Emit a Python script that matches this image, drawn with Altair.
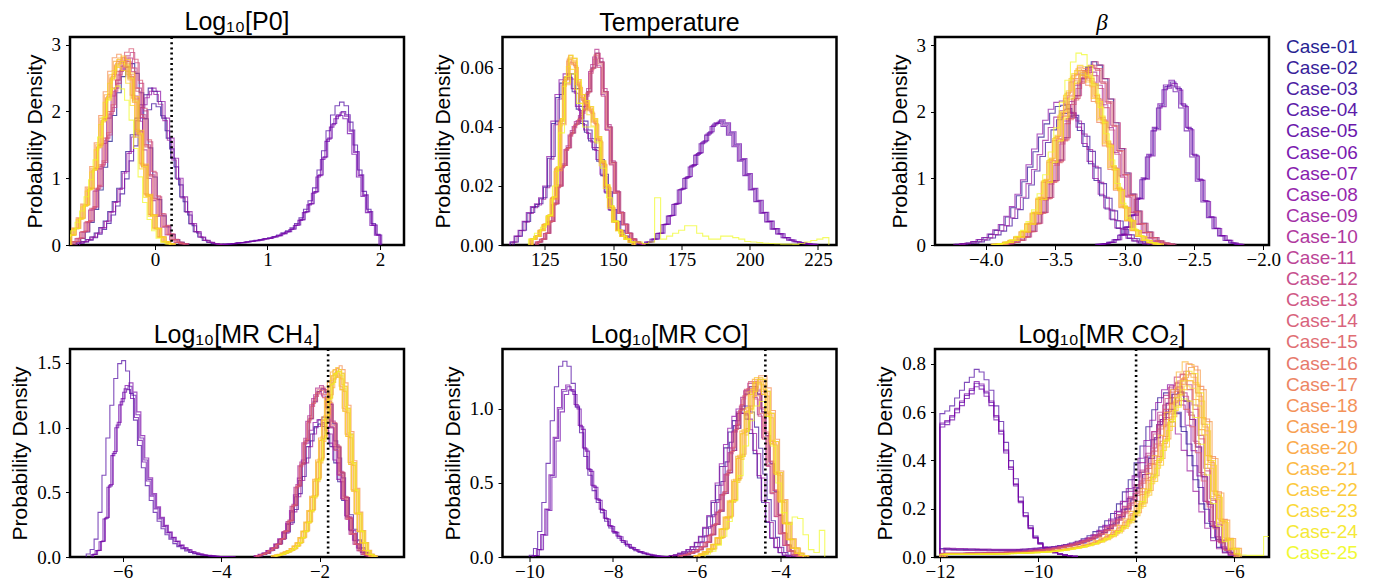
import altair as alt
import pandas as pd

CASES = [f"Case-{i:02d}" for i in range(1, 26)]
COLORS = ["#0d0887", "#230690", "#380599", "#4b03a0", "#5c01a4", "#6d01a8", "#7c06a6",
          "#8c0ca4", "#9a179d", "#a82395", "#b52f8c", "#c13b82", "#cc4778", "#d5536f",
          "#dd5f66", "#e56c5c", "#ec7953", "#f38749", "#f79540", "#fba338", "#fcb330",
          "#fcc429", "#fad524", "#f5e723", "#f0f921"]
# which posterior family each case follows
GROUP_OF = ["B", "A", "A", "D", "D", "D", "D", "A", "A", "B", "B", "B", "B", "B", "B"] + ["C"] * 10

# ---------------- Log10[P0] ----------------
P0_A = (-0.68, 0.04, [0.03, 0.05, 0.08, 0.12, 0.18, 0.26, 0.36, 0.5, 0.65, 0.85, 1.1, 1.4, 1.65, 1.9, 2.1,
                      2.25, 2.35, 2.3, 2.15, 1.9, 1.6, 1.3, 1.0, 0.72, 0.5, 0.32, 0.2, 0.12, 0.07, 0.04, 0.02, 0.01])
P0_B = (-0.72, 0.04, [0.05, 0.1, 0.2, 0.35, 0.55, 0.85, 1.2, 1.6, 2.0, 2.35, 2.6, 2.75, 2.8, 2.65, 2.35, 1.95,
                      1.5, 1.05, 0.7, 0.45, 0.28, 0.16, 0.08, 0.04, 0.02])
P0_C = (-0.76, 0.04, [0.15, 0.25, 0.4, 0.6, 0.85, 1.15, 1.5, 1.9, 2.25, 2.55, 2.75, 2.8, 2.75, 2.55, 2.2, 1.7,
                      1.2, 0.75, 0.45, 0.25, 0.12, 0.05, 0.02])
P0_D = (0.60, 0.04, [0.01, 0.015, 0.02, 0.03, 0.035, 0.045, 0.055, 0.065, 0.075, 0.09, 0.1, 0.12, 0.14, 0.17,
                     0.2, 0.24, 0.3, 0.38, 0.5, 0.62, 0.8, 1.05, 1.32, 1.6, 1.82, 1.95, 2.0, 1.95, 1.72, 1.4,
                     1.05, 0.75, 0.5, 0.3, 0.15])
P0_DX = [0.02, -0.02, 0.01, 0.0, 0.015, -0.01, 0.005, 0.01, -0.01, -0.03, 0.0, 0.02, -0.01, 0.01, -0.02,
         0.02, 0.0, -0.02, 0.01, -0.01, 0.0, 0.02, -0.02, 0.01, -0.03]
P0_SC = [0.97, 1.0, 0.9, 1.07, 1.0, 0.97, 0.99, 1.0, 0.98, 0.95, 1.0, 1.03, 0.98, 1.05, 1.0,
         1.0, 0.98, 1.02, 0.99, 1.0, 0.97, 1.01, 0.95, 0.98, 0.85]

# ---------------- Temperature ----------------
T_A = (113, 1.5, [0.001, 0.003, 0.005, 0.008, 0.011, 0.013, 0.014, 0.016, 0.02, 0.03, 0.042, 0.051, 0.056,
                  0.058, 0.058, 0.053, 0.047, 0.042, 0.039, 0.036, 0.033, 0.029, 0.024, 0.018, 0.012, 0.008,
                  0.005, 0.003, 0.002, 0.001])
T_B = (122, 1.5, [0.001, 0.002, 0.004, 0.008, 0.014, 0.02, 0.027, 0.033, 0.038, 0.041, 0.043, 0.046, 0.052,
                  0.06, 0.065, 0.062, 0.052, 0.04, 0.028, 0.018, 0.011, 0.007, 0.004, 0.002, 0.001, 0.0005])
T_C = (120, 1.5, [0.002, 0.003, 0.005, 0.007, 0.01, 0.016, 0.026, 0.042, 0.056, 0.063, 0.062, 0.055, 0.05,
                  0.048, 0.046, 0.042, 0.036, 0.028, 0.02, 0.013, 0.008, 0.005, 0.003, 0.002, 0.001])
T_D = (160, 2.0, [0.0005, 0.001, 0.002, 0.004, 0.007, 0.01, 0.014, 0.019, 0.023, 0.027, 0.031, 0.035, 0.038,
                  0.041, 0.042, 0.041, 0.038, 0.034, 0.029, 0.024, 0.019, 0.015, 0.011, 0.008, 0.0055, 0.0038,
                  0.0025, 0.0017, 0.0011, 0.0007, 0.0004, 0.0002])
T_CASE25 = (119, 2.2, [0.002, 0.004, 0.006, 0.01, 0.02, 0.038, 0.055, 0.058, 0.048, 0.04, 0.04, 0.035, 0.026,
                       0.016, 0.008, 0.004, 0.002, 0.001, 0.001, 0.0005, 0.001, 0.016, 0.002, 0.003, 0.004,
                       0.005, 0.0065, 0.0065, 0.004, 0.003, 0.002, 0.002, 0.003, 0.003, 0.0025, 0.002, 0.0012,
                       0.001, 0.0008, 0.0006, 0.0005, 0.0004, 0.0003, 0.0003, 0.0002, 0.0005, 0.001, 0.0015,
                       0.002, 0.0025])
T_DX = [0.5, -0.5, 0.8, 0.5, -0.5, 1.0, 0.0, -0.8, 0.3, -0.5, 0.3, 0.8, -0.3, 0.5, 0.0,
        0.5, -0.3, 0.2, -0.5, 0.8, 0.0, 0.3, -0.6, 0.4, 0.0]
T_SC = [1.0, 0.98, 1.0, 1.0, 0.98, 1.01, 0.99, 1.0, 0.97, 0.98, 1.02, 1.0, 0.97, 1.0, 0.99,
        0.98, 1.0, 1.02, 0.99, 0.97, 1.01, 1.0, 0.96, 1.02, 1.0]

# ---------------- beta ----------------
B_A = (-4.20, 0.04, [0.01, 0.02, 0.03, 0.05, 0.08, 0.11, 0.16, 0.22, 0.3, 0.42, 0.56, 0.74, 0.95, 1.17, 1.4,
                     1.62, 1.82, 1.98, 2.08, 2.1, 2.05, 1.92, 1.72, 1.48, 1.22, 0.97, 0.74, 0.54, 0.38, 0.25,
                     0.16, 0.1, 0.06, 0.03, 0.015])
B_B = (-3.90, 0.04, [0.01, 0.02, 0.04, 0.07, 0.12, 0.2, 0.32, 0.48, 0.7, 0.95, 1.25, 1.58, 1.9, 2.2, 2.45,
                     2.62, 2.7, 2.65, 2.45, 2.15, 1.8, 1.42, 1.06, 0.75, 0.5, 0.32, 0.19, 0.11, 0.06, 0.03, 0.015])
B_C = (-3.94, 0.04, [0.01, 0.02, 0.04, 0.07, 0.12, 0.2, 0.32, 0.48, 0.7, 0.96, 1.27, 1.6, 1.95, 2.25, 2.5,
                     2.62, 2.6, 2.45, 2.2, 1.88, 1.52, 1.16, 0.84, 0.57, 0.37, 0.22, 0.13, 0.07, 0.035, 0.015])
B_D = (-3.20, 0.04, [0.01, 0.02, 0.04, 0.08, 0.15, 0.27, 0.45, 0.7, 1.0, 1.35, 1.75, 2.1, 2.38, 2.45, 2.35,
                     2.1, 1.75, 1.35, 0.98, 0.66, 0.42, 0.25, 0.14, 0.07, 0.03, 0.01])
B_DX = [0.02, -0.02, 0.03, 0.01, -0.01, 0.0, 0.02, -0.03, 0.01, -0.02, 0.0, 0.03, -0.01, 0.02, 0.01,
        0.01, -0.02, 0.0, 0.02, -0.01, 0.01, -0.02, 0.0, 0.02, -0.01]
B_SC = [1.02, 1.0, 0.95, 1.0, 0.98, 1.01, 0.99, 1.03, 0.97, 0.98, 1.0, 1.02, 0.96, 1.0, 0.99,
        1.0, 0.98, 1.02, 0.99, 1.01, 0.97, 1.0, 1.03, 0.98, 1.1]

# ---------------- Log10[MR CH4] ----------------
M_A = (-3.28, 0.08, [0.01, 0.02, 0.03, 0.05, 0.07, 0.1, 0.14, 0.19, 0.26, 0.36, 0.48, 0.61, 0.75, 0.88, 0.98,
                     1.04, 1.06, 1.04, 0.98, 0.88, 0.75, 0.6, 0.45, 0.32, 0.21, 0.13, 0.07, 0.035, 0.015, 0.005])
M_B = (-3.28, 0.08, [0.01, 0.02, 0.03, 0.05, 0.07, 0.1, 0.14, 0.2, 0.28, 0.4, 0.55, 0.72, 0.9, 1.07, 1.2,
                     1.28, 1.3, 1.27, 1.18, 1.03, 0.85, 0.65, 0.46, 0.3, 0.18, 0.1, 0.05, 0.02, 0.01])
M_C = (-2.92, 0.06, [0.01, 0.015, 0.02, 0.03, 0.04, 0.05, 0.065, 0.085, 0.11, 0.15, 0.2, 0.27, 0.36, 0.47,
                     0.6, 0.75, 0.92, 1.08, 1.23, 1.35, 1.43, 1.45, 1.42, 1.32, 1.15, 0.95, 0.73, 0.52, 0.34,
                     0.2, 0.11, 0.05, 0.02, 0.008])
M_D = (-6.64, 0.08, [0.02, 0.05, 0.12, 0.3, 0.55, 0.8, 1.02, 1.2, 1.3, 1.32, 1.25, 1.1, 0.92, 0.75, 0.6, 0.48,
                     0.38, 0.3, 0.24, 0.19, 0.15, 0.12, 0.09, 0.07, 0.055, 0.04, 0.03, 0.022, 0.016, 0.012,
                     0.009, 0.006, 0.004, 0.003, 0.002, 0.001])
M_DX = [0.03, -0.03, 0.05, -0.1, 0.03, 0.0, 0.05, -0.05, 0.02, -0.04, 0.0, 0.04, -0.02, 0.03, 0.0,
        0.04, -0.04, 0.06, 0.0, -0.06, 0.03, -0.01, -0.05, 0.05, 0.02]
M_SC = [1.0, 0.97, 1.02, 1.15, 1.0, 0.98, 1.02, 1.0, 0.97, 0.98, 1.02, 1.0, 0.97, 1.01, 0.99,
        1.0, 0.98, 1.02, 0.99, 1.0, 0.97, 1.01, 0.98, 1.0, 0.99]

# ---------------- Log10[MR CO] ----------------
O_A = (-6.6, 0.1, [0.01, 0.015, 0.025, 0.035, 0.05, 0.07, 0.1, 0.14, 0.2, 0.28, 0.38, 0.5, 0.63, 0.76, 0.87,
                   0.95, 1.0, 1.0, 0.96, 0.86, 0.72, 0.55, 0.38, 0.24, 0.13, 0.065, 0.03, 0.012, 0.005])
O_B = (-6.4, 0.1, [0.01, 0.015, 0.025, 0.035, 0.05, 0.07, 0.1, 0.15, 0.22, 0.31, 0.43, 0.57, 0.72, 0.87, 1.0,
                   1.1, 1.15, 1.15, 1.1, 0.98, 0.82, 0.63, 0.44, 0.28, 0.16, 0.08, 0.04, 0.015, 0.005])
O_C = (-6.0, 0.1, [0.01, 0.02, 0.035, 0.055, 0.085, 0.13, 0.19, 0.27, 0.38, 0.52, 0.68, 0.85, 1.0, 1.12, 1.2,
                   1.2, 1.12, 0.97, 0.78, 0.57, 0.38, 0.23, 0.12, 0.06, 0.025, 0.01])
O_D = (-9.9, 0.1, [0.01, 0.05, 0.15, 0.32, 0.55, 0.8, 1.0, 1.12, 1.15, 1.12, 1.02, 0.88, 0.73, 0.59, 0.48,
                   0.39, 0.32, 0.26, 0.21, 0.17, 0.14, 0.11, 0.085, 0.065, 0.05, 0.037, 0.027, 0.019, 0.013,
                   0.008, 0.005, 0.003])
O_CASE25 = (-5.8, 0.13, [0.02, 0.04, 0.08, 0.14, 0.24, 0.38, 0.55, 0.75, 0.92, 1.02, 1.05, 0.95, 0.75, 0.5,
                         0.3, 0.22, 0.27, 0.26, 0.15, 0.05, 0.03, 0.18])
O_DX = [0.05, -0.05, 0.08, -0.1, 0.0, 0.04, -0.03, -0.06, 0.03, -0.05, 0.02, 0.06, -0.03, 0.04, 0.0,
        0.05, -0.05, 0.08, 0.0, -0.07, 0.03, -0.02, -0.05, 0.06, 0.0]
O_SC = [1.0, 0.97, 1.02, 1.15, 1.0, 0.98, 1.01, 1.0, 0.97, 0.98, 1.02, 1.0, 0.97, 1.03, 0.99,
        1.0, 0.98, 1.02, 0.99, 1.0, 0.97, 1.01, 0.98, 1.0, 1.0]

# ---------------- Log10[MR CO2] ----------------
X_A = (-12.0, 0.12, [0.035, 0.034, 0.033, 0.033, 0.032, 0.032, 0.031, 0.031, 0.03, 0.03, 0.03, 0.03, 0.03,
                     0.031, 0.032, 0.034, 0.036, 0.038, 0.04, 0.043, 0.047, 0.052, 0.058, 0.065, 0.075, 0.088,
                     0.105, 0.125, 0.15, 0.18, 0.22, 0.27, 0.32, 0.39, 0.46, 0.54, 0.61, 0.66, 0.68, 0.66, 0.6,
                     0.52, 0.42, 0.32, 0.22, 0.14, 0.08, 0.04, 0.02, 0.008])
X_B = (-12.0, 0.12, [0.015, 0.015, 0.015, 0.015, 0.016, 0.016, 0.016, 0.017, 0.017, 0.018, 0.019, 0.02,
                     0.021, 0.022, 0.024, 0.026, 0.028, 0.031, 0.034, 0.038, 0.043, 0.048, 0.054, 0.062, 0.07,
                     0.08, 0.092, 0.107, 0.125, 0.148, 0.176, 0.21, 0.25, 0.3, 0.36, 0.43, 0.52, 0.6, 0.67,
                     0.71, 0.72, 0.68, 0.6, 0.48, 0.35, 0.23, 0.13, 0.065, 0.03, 0.012])
X_C = (-12.0, 0.12, [0.012, 0.012, 0.012, 0.012, 0.012, 0.012, 0.013, 0.013, 0.013, 0.014, 0.014, 0.015,
                     0.016, 0.017, 0.018, 0.019, 0.02, 0.022, 0.024, 0.027, 0.03, 0.034, 0.038, 0.043, 0.049,
                     0.056, 0.065, 0.076, 0.089, 0.105, 0.125, 0.15, 0.18, 0.22, 0.27, 0.33, 0.4, 0.48, 0.57,
                     0.66, 0.73, 0.77, 0.76, 0.68, 0.55, 0.4, 0.26, 0.15, 0.075, 0.035])
X_D = (-12.0, 0.1, [0.55, 0.56, 0.58, 0.61, 0.64, 0.67, 0.69, 0.72, 0.71, 0.68, 0.64, 0.58, 0.52, 0.44, 0.37,
                    0.3, 0.23, 0.17, 0.12, 0.08, 0.055, 0.038, 0.026, 0.018, 0.012, 0.008, 0.005, 0.003])
X_CASE25_TAIL = [0.015, 0.01, 0.008, 0.008, 0.008, 0.1, 0.1]
X_DX = [0.05, 0.0, 0.1, 0.0, 0.0, 0.0, 0.0, 0.08, 0.0, 0.06, 0.0, 0.1, 0.03, 0.12, 0.05,
        0.05, 0.1, 0.0, 0.15, 0.08, 0.02, 0.12, 0.06, 0.1, 0.0]
X_SC = [0.95, 1.0, 0.9, 1.08, 1.0, 0.98, 1.01, 1.05, 0.85, 0.95, 1.0, 1.05, 0.98, 1.02, 0.9,
        1.0, 1.04, 0.96, 1.02, 0.98, 1.05, 0.95, 0.92, 1.0, 0.85]

PANELS = [
    dict(title="Log₁₀[P0]", groups=dict(A=P0_A, B=P0_B, C=P0_C, D=P0_D), over={}, dx=P0_DX, sc=P0_SC,
         xdom=[-0.755, 2.213], ydom=[0, 3.115], xt=[0, 1, 2], yt=[0, 1, 2, 3], xf="d", yf="d", truth=0.148),
    dict(title="Temperature", groups=dict(A=T_A, B=T_B, C=T_C, D=T_D), over={24: T_CASE25}, dx=T_DX, sc=T_SC,
         xdom=[109.5, 231.8], ydom=[0, 0.0705], xt=[125, 150, 175, 200, 225], yt=[0, 0.02, 0.04, 0.06],
         xf="d", yf=".2f", truth=None),
    dict(title="β", groups=dict(A=B_A, B=B_B, C=B_C, D=B_D), over={}, dx=B_DX, sc=B_SC,
         xdom=[-4.366, -1.959], ydom=[0, 3.125], xt=[-4.0, -3.5, -3.0, -2.5, -2.0], yt=[0, 1, 2, 3],
         xf=".1f", yf="d", truth=None),
    dict(title="Log₁₀[MR CH₄]", groups=dict(A=M_A, B=M_B, C=M_C, D=M_D), over={}, dx=M_DX, sc=M_SC,
         xdom=[-7.07, -0.283], ydom=[0, 1.608], xt=[-6, -4, -2], yt=[0, 0.5, 1.0, 1.5],
         xf="d", yf=".1f", truth=-1.825),
    dict(title="Log₁₀[MR CO]", groups=dict(A=O_A, B=O_B, C=O_C, D=O_D), over={24: O_CASE25}, dx=O_DX, sc=O_SC,
         xdom=[-10.64, -2.66], ydom=[0, 1.405], xt=[-10, -8, -6, -4], yt=[0, 0.5, 1.0],
         xf="d", yf=".1f", truth=-4.36),
    dict(title="Log₁₀[MR CO₂]", groups=dict(A=X_A, B=X_B, C=X_C, D=X_D),
         over={24: (X_C[0], X_C[1], X_C[2] + X_CASE25_TAIL)}, dx=X_DX, sc=X_SC,
         xdom=[-12.10, -5.29], ydom=[0, 0.862], xt=[-12, -10, -8, -6], yt=[0, 0.2, 0.4, 0.6, 0.8],
         xf="d", yf=".1f", truth=-8.0),
]

W, H = 334, 208
LEG_STEP = 21.1
color_enc = alt.Color("case:N", scale=alt.Scale(domain=CASES, range=COLORS), legend=None)


def step_rows(case, e0, w, hs, dx, sc):
    x0 = e0 + dx
    pts = [(x0, 0.0)]
    for i, h in enumerate(hs):
        pts.append((x0 + i * w, h * sc))
        pts.append((x0 + (i + 1) * w, h * sc))
    pts.append((x0 + len(hs) * w, 0.0))
    return [dict(case=case, ord=j, x=px, y=py) for j, (px, py) in enumerate(pts)]


charts = []
for pi, p in enumerate(PANELS):
    rows = []
    for ci, case in enumerate(CASES):
        e0, w, hs = p["over"].get(ci, p["groups"][GROUP_OF[ci]])
        rows += step_rows(case, e0, w, hs, p["dx"][ci], p["sc"][ci])
    df = pd.DataFrame(rows)
    lines = alt.Chart(df).mark_line(clip=True, strokeWidth=1.1, opacity=0.7).encode(
        x=alt.X("x:Q", scale=alt.Scale(domain=p["xdom"], nice=False, zero=False),
                axis=alt.Axis(values=p["xt"], format=p["xf"], title=None)),
        y=alt.Y("y:Q", scale=alt.Scale(domain=p["ydom"], nice=False, zero=False),
                axis=alt.Axis(values=p["yt"], format=p["yf"], title="Probability Density")),
        color=color_enc,
        order=alt.Order("ord:Q"),
    )
    layers = [lines]
    if p["truth"] is not None:
        rule = alt.Chart(pd.DataFrame({"x": [p["truth"]]})).mark_rule(
            clip=True, color="black", strokeWidth=2.6, strokeDash=[2, 3.2]).encode(x="x:Q")
        layers.append(rule)
    if pi == 2:
        leg = pd.DataFrame({"case": CASES, "k": list(range(len(CASES)))})
        txt = alt.Chart(leg).mark_text(align="left", baseline="middle", font="Liberation Sans",
                                       fontSize=19, opacity=0.9).encode(
            x=alt.value(W + 17),
            y=alt.Y("k:Q", scale=alt.Scale(domain=[0, 24], range=[10, 10 + LEG_STEP * 24]), axis=None),
            text="case:N",
            color=color_enc,
        )
        layers.append(txt)
    if p["title"] == "β":
        ttl = alt.TitleParams(text="β", font="Liberation Serif", fontStyle="italic", fontSize=23)
    else:
        ttl = alt.TitleParams(text=p["title"])
    ch = alt.layer(*layers).properties(width=W, height=H, title=ttl)
    if pi == 2:
        ch = ch.resolve_scale(y="independent")
    charts.append(ch)

chart = alt.concat(*charts, columns=3, spacing={"row": 104, "column": 98.5}, bounds="flush").configure_view(
    stroke="black", strokeWidth=2.5
).configure_axis(
    domain=False, grid=False, labelFont="Liberation Serif", labelFontSize=19, labelColor="black",
    tickColor="black", tickSize=4.5, tickWidth=1, labelFlush=False,
    titleFont="Liberation Sans", titleFontSize=21, titleFontWeight="normal", titleColor="black",
    titlePadding=6
).configure_axisX(
    labelPadding=1
).configure_axisY(
    labelPadding=5
).configure_title(
    font="Liberation Sans", fontSize=25, fontWeight="normal", color="black", offset=1
).properties(background="white", padding=0)

chart.save("out.html", embed_options={"renderer": "svg", "actions": False})
